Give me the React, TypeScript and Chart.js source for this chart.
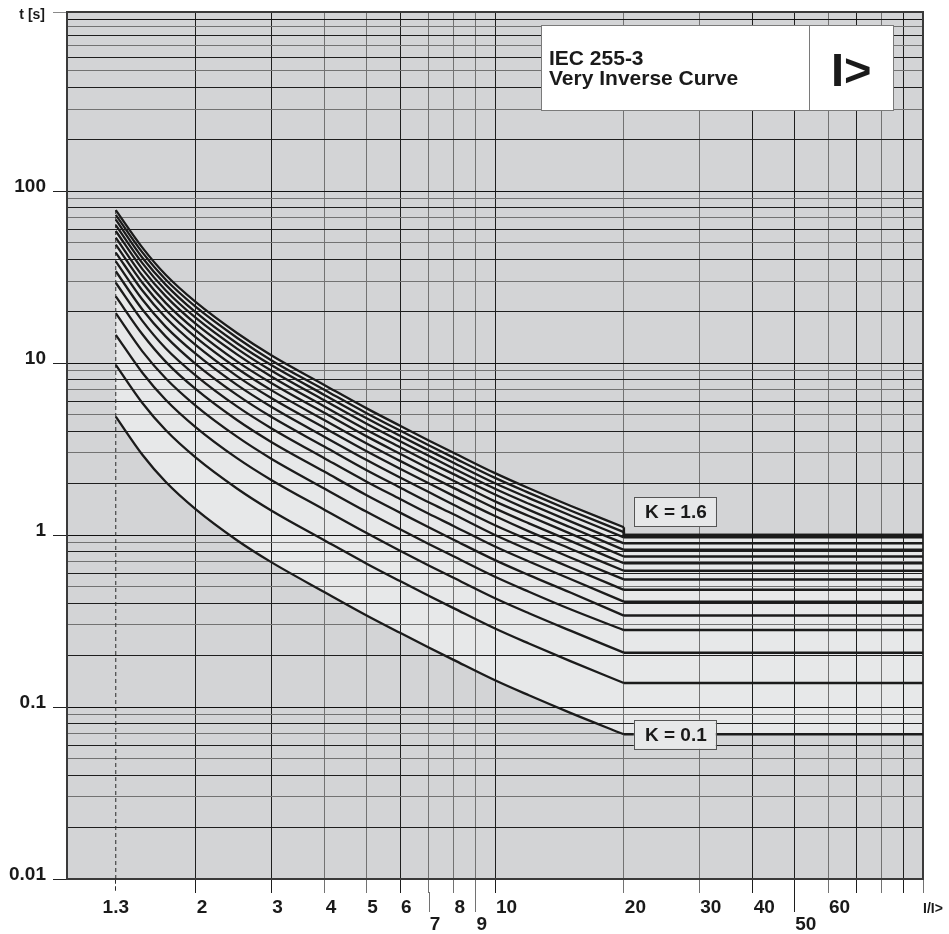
import React, { useEffect, useRef } from "react";
import { Chart, registerables } from "chart.js";

// ---------- data ----------
const X_POINTS = [1.3, 1.5, 1.7, 2, 2.5, 3, 4, 5, 6, 7, 8, 10, 12, 15, 20];
const K_VALUES = [0.1, 0.2, 0.3, 0.4, 0.5, 0.6, 0.7, 0.8, 0.9, 1.0, 1.1, 1.2, 1.3, 1.4, 1.5, 1.6];

const K01 = [4.88, 2.93, 2.04, 1.41, 0.93, 0.696, 0.465, 0.342, 0.27, 0.222, 0.188, 0.143, 0.117, 0.0925, 0.0694];
const K02 = [9.76, 5.86, 4.08, 2.82, 1.86, 1.39, 0.93, 0.684, 0.54, 0.444, 0.376, 0.286, 0.234, 0.185, 0.138];
const K03 = [14.6, 8.79, 6.12, 4.23, 2.79, 2.09, 1.4, 1.03, 0.81, 0.666, 0.564, 0.429, 0.351, 0.278, 0.207];
const K04 = [19.5, 11.7, 8.16, 5.64, 3.72, 2.78, 1.86, 1.37, 1.08, 0.888, 0.752, 0.572, 0.468, 0.37, 0.28];
const K05 = [24.4, 14.7, 10.2, 7.05, 4.65, 3.48, 2.33, 1.71, 1.35, 1.11, 0.94, 0.715, 0.585, 0.463, 0.34];
const K06 = [29.3, 17.6, 12.2, 8.46, 5.58, 4.18, 2.79, 2.05, 1.62, 1.33, 1.13, 0.858, 0.702, 0.555, 0.41];
const K07 = [34.2, 20.5, 14.3, 9.87, 6.51, 4.87, 3.26, 2.39, 1.89, 1.55, 1.32, 1.0, 0.819, 0.648, 0.48];
const K08 = [39.0, 23.4, 16.3, 11.3, 7.44, 5.57, 3.72, 2.74, 2.16, 1.78, 1.5, 1.14, 0.936, 0.74, 0.552];
const K09 = [43.9, 26.4, 18.4, 12.7, 8.37, 6.26, 4.19, 3.08, 2.43, 2.0, 1.69, 1.29, 1.05, 0.833, 0.62];
const K10 = [48.8, 29.3, 20.4, 14.1, 9.3, 6.96, 4.65, 3.42, 2.7, 2.22, 1.88, 1.43, 1.17, 0.925, 0.685];
const K11 = [53.7, 32.2, 22.4, 15.5, 10.2, 7.66, 5.12, 3.76, 2.97, 2.44, 2.07, 1.57, 1.29, 1.02, 0.75];
const K12 = [58.6, 35.2, 24.5, 16.9, 11.2, 8.35, 5.58, 4.1, 3.24, 2.66, 2.26, 1.72, 1.4, 1.11, 0.82];
const K13 = [63.4, 38.1, 26.5, 18.3, 12.1, 9.05, 6.05, 4.45, 3.51, 2.89, 2.44, 1.86, 1.52, 1.2, 0.895];
const K14 = [68.3, 41.0, 28.6, 19.7, 13.0, 9.74, 6.51, 4.79, 3.78, 3.11, 2.63, 2.0, 1.64, 1.3, 0.97];
const K15 = [72.8, 44.0, 30.6, 21.2, 14.0, 10.4, 6.98, 5.13, 4.05, 3.33, 2.82, 2.15, 1.76, 1.39, 1.04];
const K16 = [77.5, 46.9, 32.6, 22.6, 14.9, 11.1, 7.44, 5.47, 4.32, 3.55, 3.01, 2.29, 1.87, 1.48, 1.11];
const CURVES = [K01, K02, K03, K04, K05, K06, K07, K08, K09, K10, K11, K12, K13, K14, K15, K16];

// definite-time plateau after I/I> = 20
const FLAT_START = 20;
const FLAT_END = 100;
const FLAT_T = [0.0694, 0.138, 0.207, 0.28, 0.34, 0.41, 0.48, 0.552, 0.62, 0.685, 0.75, 0.82, 0.895, 0.97, 1.0, 1.0];

const PICKUP_X = 1.3;
const Y_MIN = 0.01;
const Y_MAX = 1100;
const X_MIN = 1;
const X_MAX = 100;

const X_TICKS = [1.3, 2, 3, 4, 5, 6, 7, 8, 9, 10, 20, 30, 40, 50, 60, 70, 80, 90, 100];
const X_DARK_LINES = [2, 3, 6, 10, 40, 50, 70, 90];
const X_LABEL_VALUES = [1.3, 2, 3, 4, 5, 6, 7, 8, 9, 10, 20, 30, 40, 50, 60];
const X_LABEL_TEXT = ["1.3", "2", "3", "4", "5", "6", "7", "8", "9", "10", "20", "30", "40", "50", "60"];
const X_LOWER_ROW = [7, 9, 50];
const X_AXIS_NAME = "I/I>";

const Y_DECADES = [0.01, 0.1, 1, 10, 100];
const Y_MANTISSAS = [1, 2, 3, 4, 5, 6, 7, 8, 9];
const Y_LABEL_VALUES = [0.01, 0.1, 1, 10, 100];
const Y_LABEL_TEXT = ["0.01", "0.1", "1", "10", "100"];
const Y_AXIS_NAME = "t [s]";

const TITLE_LINES = ["IEC 255-3", "Very Inverse Curve"];
const TITLE_SYMBOL = "I>";
const K_TOP_LABEL = "K = 1.6";
const K_BOTTOM_LABEL = "K = 0.1";

// ---------- styles ----------
const PLOT_BG = "#d3d4d6";
const BAND_BG = "#e7e8e9";
const CURVE_COLOR = "#1b1b1b";
const DARK_GRID = "#1e1e1e";
const LIGHT_GRID = "#727272";
const FONT_FAMILY = "'Liberation Sans', Arial, Helvetica, sans-serif";

Chart.register(...registerables);

const near = (a: number | undefined, b: number) =>
  a !== undefined && Math.abs(a - b) < 1e-6 * Math.max(1, Math.abs(b));

function xGridColor(v: number | undefined) {
  if (v === undefined) return "#333";
  if (near(v, PICKUP_X)) return "rgba(0,0,0,0)";
  return X_DARK_LINES.some((d) => near(v, d)) ? DARK_GRID : LIGHT_GRID;
}

function yGridColor(v: number | undefined) {
  if (v === undefined) return "#333";
  if (near(v, Y_MAX)) return "#333";
  if (Y_DECADES.some((d) => near(v, d)) || near(v, 1000)) return "#111";
  const dec = Math.pow(10, Math.floor(Math.log10(v) + 1e-9));
  const m = Math.round(v / dec);
  return m % 2 === 0 ? DARK_GRID : LIGHT_GRID;
}

// paints the plot background under the grid
const plotBackground = {
  id: "plotBackground",
  beforeDraw(chart: any) {
    const a = chart.chartArea;
    if (!a) return;
    const ctx = chart.ctx;
    ctx.save();
    ctx.fillStyle = PLOT_BG;
    ctx.fillRect(a.left, a.top, a.right - a.left, a.bottom - a.top);
    ctx.restore();
  },
};

const overlay = {
  id: "overlay",
  // runs after the filler has painted the band: put grid and frame back on top of it
  beforeDatasetsDraw(chart: any) {
    const a = chart.chartArea;
    const ctx = chart.ctx;
    ctx.save();
    chart.scales.x.drawGrid(a);
    chart.scales.y.drawGrid(a);
    ctx.restore();
    ctx.save();
    ctx.strokeStyle = "#3a3a3a";
    ctx.lineWidth = 2;
    ctx.strokeRect(a.left, a.top, a.right - a.left, a.bottom - a.top);
    ctx.restore();
  },
  afterDraw(chart: any) {
    const a = chart.chartArea;
    const ctx = chart.ctx;
    const xs = chart.scales.x;
    const ys = chart.scales.y;
    ctx.save();

    // long ticks for lower-row labels
    X_LOWER_ROW.forEach((v) => {
      const px = Math.round(xs.getPixelForValue(v)) + 0.5;
      ctx.strokeStyle = xGridColor(v);
      ctx.lineWidth = 1;
      ctx.beginPath();
      ctx.moveTo(px, a.bottom + 13);
      ctx.lineTo(px, a.bottom + 33);
      ctx.stroke();
    });

    // x labels
    ctx.fillStyle = "#1a1a1a";
    ctx.font = `bold 19px ${FONT_FAMILY}`;
    ctx.textBaseline = "alphabetic";
    X_LABEL_VALUES.forEach((v, i) => {
      const px = xs.getPixelForValue(v);
      const lower = X_LOWER_ROW.some((l) => near(v, l));
      const by = a.bottom + (lower ? 51 : 34);
      if (near(v, PICKUP_X)) {
        ctx.textAlign = "center";
        ctx.fillText(X_LABEL_TEXT[i], px, by);
      } else {
        ctx.textAlign = "left";
        ctx.fillText(X_LABEL_TEXT[i], px + 1, by);
      }
    });
    ctx.font = `bold 14px ${FONT_FAMILY}`;
    ctx.textAlign = "left";
    ctx.fillText(X_AXIS_NAME, xs.getPixelForValue(X_MAX), a.bottom + 34);

    // y labels
    ctx.font = `bold 19px ${FONT_FAMILY}`;
    ctx.textAlign = "right";
    Y_LABEL_VALUES.forEach((v, i) => {
      ctx.fillText(Y_LABEL_TEXT[i], a.left - 21, ys.getPixelForValue(v) + 1);
    });
    ctx.font = `bold 14px ${FONT_FAMILY}`;
    ctx.fillText(Y_AXIS_NAME, a.left - 22, a.top + 7);

    // title box
    const bx = a.right - 382;
    const by = a.top + 13;
    const bw = 352;
    const bh = 85;
    ctx.fillStyle = "#ffffff";
    ctx.fillRect(bx, by, bw, bh);
    ctx.strokeStyle = "#7a7a7a";
    ctx.lineWidth = 1;
    ctx.strokeRect(bx + 0.5, by + 0.5, bw, bh);
    ctx.beginPath();
    ctx.moveTo(bx + 268.5, by);
    ctx.lineTo(bx + 268.5, by + bh);
    ctx.stroke();
    ctx.fillStyle = "#1a1a1a";
    ctx.font = `bold 21px ${FONT_FAMILY}`;
    ctx.textAlign = "left";
    ctx.fillText(TITLE_LINES[0], bx + 8, by + 40);
    ctx.fillText(TITLE_LINES[1], bx + 8, by + 60);
    ctx.font = `bold 47px ${FONT_FAMILY}`;
    ctx.fillText(TITLE_SYMBOL, bx + 290, by + 61);

    // K labels
    const kx = xs.getPixelForValue(FLAT_START) + 10;
    const drawK = (text: string, cy: number) => {
      const w = 82;
      const h = 29;
      ctx.fillStyle = BAND_BG;
      ctx.fillRect(kx, cy - h / 2, w, h);
      ctx.strokeStyle = "#555";
      ctx.lineWidth = 1;
      ctx.strokeRect(Math.round(kx) + 0.5, Math.round(cy - h / 2) + 0.5, w, h);
      ctx.fillStyle = "#1a1a1a";
      ctx.font = `bold 19px ${FONT_FAMILY}`;
      ctx.textAlign = "center";
      ctx.textBaseline = "middle";
      ctx.fillText(text, kx + w / 2 + 1, cy + 1);
      ctx.textBaseline = "alphabetic";
    };
    drawK(K_TOP_LABEL, ys.getPixelForValue(FLAT_T[FLAT_T.length - 1]) - 23.5);
    drawK(K_BOTTOM_LABEL, ys.getPixelForValue(FLAT_T[0]));

    ctx.restore();
  },
};

export default function App() {
  const ref = useRef<HTMLCanvasElement>(null);

  useEffect(() => {
    const canvas = ref.current;
    if (!canvas) return;
    const n = CURVES.length;
    const datasets: any[] = [];

    CURVES.forEach((vals, i) => {
      datasets.push({
        label: `K = ${K_VALUES[i]}`,
        data: X_POINTS.map((x, j) => ({ x, y: vals[j] })),
        borderColor: CURVE_COLOR,
        backgroundColor: BAND_BG,
        borderWidth: 2.3,
        pointRadius: 0,
        cubicInterpolationMode: "monotone",
        fill: i === n - 1 ? { target: 0 } : false,
      });
    });

    CURVES.forEach((vals, i) => {
      const end = vals[vals.length - 1];
      const pts: any[] = [{ x: FLAT_START, y: end }];
      if (!near(end, FLAT_T[i])) pts.push({ x: FLAT_START, y: FLAT_T[i] });
      pts.push({ x: FLAT_END, y: FLAT_T[i] });
      datasets.push({
        label: `K = ${K_VALUES[i]} (definite)`,
        data: pts,
        borderColor: CURVE_COLOR,
        backgroundColor: BAND_BG,
        borderWidth: 2.5,
        pointRadius: 0,
        tension: 0,
        fill: i === n - 1 ? { target: n } : false,
      });
    });

    datasets.push({
      label: "pickup",
      data: [
        { x: PICKUP_X, y: Y_MIN },
        { x: PICKUP_X, y: K16[0] },
      ],
      borderColor: "#2a2a2a",
      backgroundColor: "rgba(0,0,0,0)",
      borderWidth: 1,
      borderDash: [4, 3],
      pointRadius: 0,
      fill: false,
    });

    const yTicks: number[] = [];
    Y_DECADES.forEach((d) => Y_MANTISSAS.forEach((m) => yTicks.push(d * m)));
    yTicks.push(1000, Y_MAX);

    const chart = new Chart(canvas, {
      type: "line",
      data: { datasets },
      options: {
        responsive: false,
        animation: false,
        devicePixelRatio: 1,
        layout: { padding: { top: 12, right: 26, left: 0, bottom: 0 } },
        plugins: {
          legend: { display: false },
          tooltip: { enabled: false },
          colors: { enabled: false },
          filler: { propagate: false, drawTime: "beforeDatasetsDraw" },
        } as any,
        scales: {
          x: {
            type: "logarithmic",
            min: X_MIN,
            max: X_MAX,
            afterBuildTicks: (s: any) => {
              s.ticks = X_TICKS.map((v) => ({ value: v }));
            },
            afterFit: (s: any) => {
              s.height = 55;
            },
            ticks: { display: false },
            grid: {
              color: (c: any) => xGridColor(c.tick?.value),
              tickColor: (c: any) => (near(c.tick?.value, PICKUP_X) ? "#2a2a2a" : xGridColor(c.tick?.value)),
              tickBorderDash: (c: any) => (near(c.tick?.value, PICKUP_X) ? [4, 3] : []),
              lineWidth: 1,
              tickLength: 14,
            },
            border: { color: "#333", width: 1.5 },
          } as any,
          y: {
            type: "logarithmic",
            min: Y_MIN,
            max: Y_MAX,
            afterBuildTicks: (s: any) => {
              s.ticks = yTicks.map((v) => ({ value: v }));
            },
            afterFit: (s: any) => {
              s.width = 67;
            },
            ticks: { display: false },
            grid: {
              color: (c: any) => yGridColor(c.tick?.value),
              tickColor: (c: any) => {
                const v = c.tick?.value;
                if (near(v, Y_MAX)) return "#8a8a8a";
                return Y_DECADES.some((d) => near(v, d)) ? "#222" : "rgba(0,0,0,0)";
              },
              lineWidth: 1,
              tickLength: 14,
            },
            border: { color: "#3a3a3a", width: 2 },
          } as any,
        },
      },
      plugins: [plotBackground, overlay],
    });

    return () => chart.destroy();
  }, []);

  return (
    <div style={{ position: "absolute", left: 0, top: 0, width: 949, height: 934, background: "#fff" }}>
      <canvas ref={ref} width={949} height={934} style={{ display: "block", width: 949, height: 934 }} />
    </div>
  );
}
